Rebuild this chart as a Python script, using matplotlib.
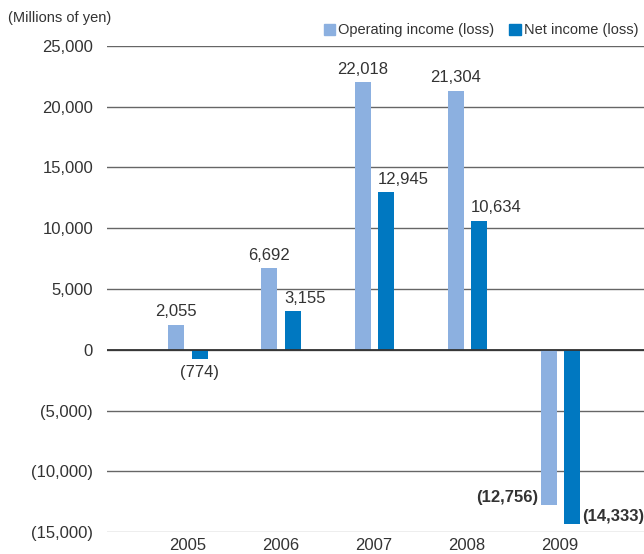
import numpy as np
import matplotlib
matplotlib.use('Agg')
import matplotlib.pyplot as plt
from matplotlib.patches import Patch

plt.rcParams['font.family'] = ['Liberation Sans', 'DejaVu Sans']

years = ['2005', '2006', '2007', '2008', '2009']
operating = [2055, 6692, 22018, 21304, -12756]
net = [-774, 3155, 12945, 10634, -14333]
yticks = [25000, 20000, 15000, 10000, 5000, 0, -5000, -10000, -15000]

c_op = '#8cb0e0'
c_net = '#0078c1'
txt = '#333333'

def fmt(v):
    return '{:,}'.format(v) if v >= 0 else '({:,})'.format(-v)

fig = plt.figure(figsize=(6.44, 5.54), dpi=100)
ax = fig.add_axes([0.166, 0.0397, 0.834, 0.8773])

x = np.arange(len(years))
w = 0.172
off = 0.124
ax.bar(x - off, operating, w, color=c_op, zorder=3)
ax.bar(x + off, net, w, color=c_net, zorder=3)

ax.set_ylim(-15000, 25000)
ax.set_xlim(-0.871, 4.90)
ax.set_yticks(yticks)
ax.set_yticklabels([fmt(v) for v in yticks], fontsize=12, color=txt)
ax.set_xticks(x)
ax.set_xticklabels(years, fontsize=12, color=txt)
ax.tick_params(length=0, pad=10)
ax.tick_params(axis='x', pad=4)
for s in ax.spines.values():
    s.set_visible(False)
for v in yticks:
    ax.axhline(v, color='#666666' if v != -15000 else '#aaaaaa', lw=1, zorder=2)
ax.axhline(0, color='#333333', lw=1.3, zorder=4)

for i in range(len(years)):
    o, n = operating[i], net[i]
    if o >= 0:
        ax.text(x[i] - off, o + 450, fmt(o), ha='center', va='bottom', fontsize=12, color=txt)
    else:
        ax.text(x[i] - off - w / 2 - 0.03, o, fmt(o), ha='right', va='bottom', fontsize=12,
                color=txt, fontweight='bold')
    if i == 0:
        ax.text(x[i] + off, n - 500, fmt(n), ha='center', va='top', fontsize=12, color=txt)
    elif n >= 0:
        ax.text(x[i] + off - w / 2, n + 450, fmt(n), ha='left', va='bottom', fontsize=12, color=txt)
    else:
        ax.text(x[i] + off + w / 2 + 0.02, n, fmt(n), ha='left', va='bottom', fontsize=12,
                color=txt, fontweight='bold')

fig.text(0.012, 0.967, '(Millions of yen)', fontsize=10.5, color=txt, va='center')

handles = [Patch(color=c_op, label='Operating income (loss)'),
           Patch(color=c_net, label='Net income (loss)')]
fig.legend(handles=handles, loc='center right', bbox_to_anchor=(1.0, 0.945), ncol=2,
           frameon=False, fontsize=10.5, handlelength=0.8, handleheight=0.8,
           handletextpad=0.2, columnspacing=1.0, labelcolor=txt, borderaxespad=0)

fig.savefig('out.png', dpi=100)
